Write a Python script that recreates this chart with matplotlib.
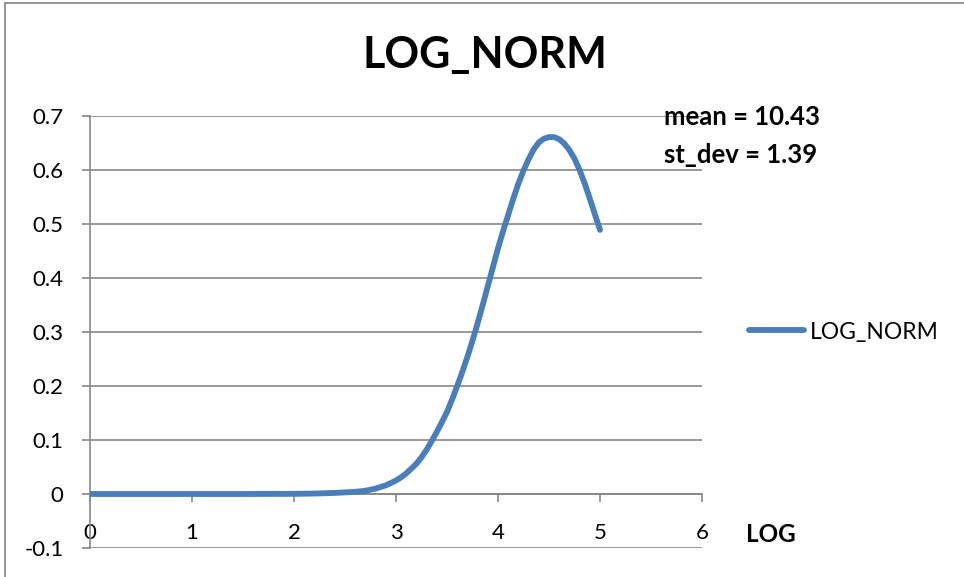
import matplotlib
matplotlib.use("Agg")
from matplotlib import pyplot as plt
from matplotlib.patches import Rectangle

plt.rcParams['font.family'] = ['Lato', 'DejaVu Sans']

# LOG_NORM curve values
log_x = [0, 0.5, 1.0, 1.5, 2.0, 2.2, 2.4, 2.5, 2.6, 2.7, 2.8, 2.9,
         3.0, 3.05, 3.1, 3.15, 3.2, 3.25, 3.3, 3.35, 3.4, 3.45, 3.5,
         3.55, 3.6, 3.65, 3.7, 3.75, 3.8, 3.85, 3.9, 3.95, 4.0,
         4.05, 4.1, 4.15, 4.2, 4.25, 4.3, 4.35, 4.4, 4.45, 4.5,
         4.55, 4.6, 4.65, 4.7, 4.75, 4.8, 4.85, 4.9, 4.95, 5.0]
log_norm = [0, 0, 0, 0, 0.0003, 0.0008, 0.002, 0.003, 0.004, 0.006, 0.010, 0.016,
            0.025, 0.031, 0.038, 0.047, 0.056, 0.068, 0.082, 0.098, 0.115, 0.133, 0.152,
            0.175, 0.200, 0.226, 0.254, 0.284, 0.316, 0.350, 0.385, 0.420, 0.455,
            0.487, 0.517, 0.547, 0.575, 0.599, 0.620, 0.638, 0.651, 0.658, 0.661,
            0.661, 0.657, 0.649, 0.637, 0.621, 0.600, 0.575, 0.547, 0.518, 0.489]
x_ticks = [0, 1, 2, 3, 4, 5, 6]
y_ticks = [-0.1, 0, 0.1, 0.2, 0.3, 0.4, 0.5, 0.6, 0.7]
y_labels = ['-0.1', '0', '0.1', '0.2', '0.3', '0.4', '0.5', '0.6', '0.7']
mean_text = 'mean = 10.43'
sd_text = 'st_dev = 1.39'

W, H = 964, 577
fig = plt.figure(figsize=(W / 100, H / 100), dpi=100)

def fx(px):
    return px / W

def fy(py):
    return 1 - py / H

grid_col = '#878787'
blue = '#4A7EBB'

# chart border (top and left edges)
fig.patches.append(Rectangle((fx(5), fy(3) - 2), 2, 2, transform=fig.transFigure,
                             fill=False, edgecolor='#8c8c8c', lw=1.3))

ax = fig.add_axes([fx(90), fy(548), fx(702) - fx(90), fy(116) - fy(548)])
ax.set_xlim(0, 6)
ax.set_ylim(-0.1, 0.7)

for v in y_ticks:
    ax.axhline(v, color=grid_col, lw=1.2, zorder=1)

line, = ax.plot(log_x, log_norm, color=blue, lw=4.2, solid_capstyle='round',
                solid_joinstyle='round', label='LOG_NORM', zorder=3)

for s in ['top', 'right']:
    ax.spines[s].set_visible(False)
ax.spines['left'].set_color(grid_col)
ax.spines['left'].set_linewidth(1.2)
ax.spines['bottom'].set_position(('data', 0))
ax.spines['bottom'].set_color(grid_col)
ax.spines['bottom'].set_linewidth(1.2)

ax.set_xticks(x_ticks)
ax.set_xticklabels([str(t) for t in x_ticks])
ax.set_yticks(y_ticks)
ax.set_yticklabels(y_labels)
ax.tick_params(axis='x', direction='out', length=6, width=1.2, color=grid_col,
               pad=15, labelsize=16)
ax.tick_params(axis='y', direction='out', length=6, width=1.2, color=grid_col,
               pad=13, labelsize=16)

fig.text(fx(485), fy(55), 'LOG_NORM', ha='center', va='center',
         fontsize=31, fontweight='bold')
fig.text(fx(664), fy(117), mean_text, ha='left', va='center',
         fontsize=18.5, fontweight='bold')
fig.text(fx(664), fy(155), sd_text, ha='left', va='center',
         fontsize=18.5, fontweight='bold')
fig.text(fx(746), fy(535), 'LOG', ha='left', va='center',
         fontsize=17.5, fontweight='bold')

ax.legend(handles=[line], loc='center left', bbox_to_anchor=(fx(749), fy(332)),
          bbox_transform=fig.transFigure, frameon=False, fontsize=16.5,
          handlelength=2.4, handletextpad=0.25, borderpad=0, borderaxespad=0)

fig.savefig('out.png', dpi=100)
